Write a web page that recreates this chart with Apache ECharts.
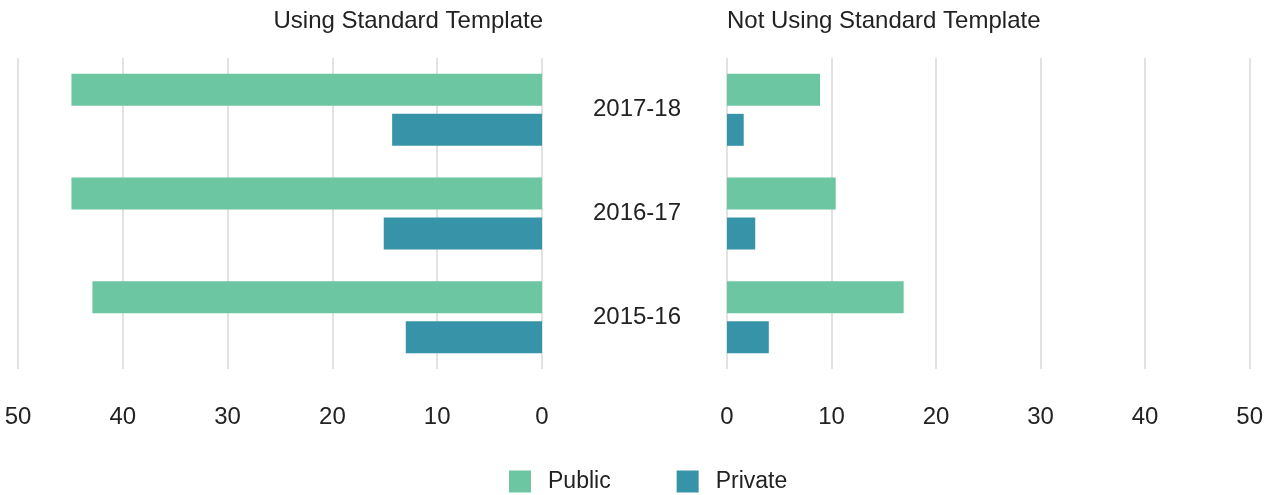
<!DOCTYPE html>
<html>
<head>
<meta charset="utf-8">
<script src="https://cdn.jsdelivr.net/npm/echarts@6/dist/echarts.min.js"></script>
<style>
  html, body { margin: 0; padding: 0; background: #fff; }
  #main { width: 1266px; height: 495px; }
</style>
</head>
<body>
<div id="main"></div>
<script>
// categories, top to bottom
const years = ['2017-18', '2016-17', '2015-16']
// using standard template (%)
const stdPublic = [44.9, 44.9, 42.9]
const stdPrivate = [14.3, 15.1, 13.0]
// not using standard template (%)
const nonPublic = [8.9, 10.4, 16.9]
const nonPrivate = [1.6, 2.7, 4.0]
const ticks = [0, 10, 20, 30, 40, 50]

const FONT = '"Helvetica Neue", Helvetica, "Liberation Sans", Arial, sans-serif'
const GREEN = '#6cc6a2'
const TEAL = '#3794a8'

const myChart = echarts.init(document.getElementById('main'))

const valueAxis = (gridIndex, inverse) => ({
  type: 'value',
  gridIndex: gridIndex,
  inverse: inverse,
  min: ticks[0],
  max: ticks[ticks.length - 1],
  interval: 10,
  axisLine: { show: false },
  axisTick: { show: false },
  axisLabel: { color: '#222', fontSize: 24, fontFamily: FONT, margin: 36 },
  splitLine: { lineStyle: { color: '#d8d8d8', width: 1.5 } }
})

const option = {
  animation: false,
  title: [
    {
      text: 'Using Standard Template',
      right: 718, top: 4,
      textStyle: { fontSize: 24, fontWeight: 'normal', color: '#222', fontFamily: FONT }
    },
    {
      text: 'Not Using Standard Template',
      left: 722, top: 4,
      textStyle: { fontSize: 24, fontWeight: 'normal', color: '#222', fontFamily: FONT }
    }
  ],
  legend: {
    data: ['Public', 'Private'],
    top: 465,
    left: 504,
    itemWidth: 22,
    itemHeight: 22,
    itemGap: 66,
    icon: 'rect',
    textStyle: { fontSize: 23, color: '#222', fontFamily: FONT, padding: [0, 0, 0, 12] }
  },
  grid: [
    { left: 18, right: 724, top: 58, bottom: 126 },
    { left: 727, right: 16, top: 58, bottom: 126 }
  ],
  xAxis: [valueAxis(0, true), valueAxis(1, false)],
  yAxis: [
    {
      type: 'category', gridIndex: 0, data: years, inverse: true,
      show: false
    },
    {
      type: 'category', gridIndex: 1, data: years, inverse: true,
      axisLine: { show: false },
      axisTick: { show: false },
      axisLabel: { color: '#222', fontSize: 24, fontFamily: FONT, margin: 90, align: 'center' }
    }
  ],
  series: [
    { name: 'Public', type: 'bar', xAxisIndex: 0, yAxisIndex: 0, data: stdPublic,
      itemStyle: { color: GREEN }, barWidth: 32, barGap: '25%' },
    { name: 'Private', type: 'bar', xAxisIndex: 0, yAxisIndex: 0, data: stdPrivate,
      itemStyle: { color: TEAL }, barWidth: 32, barGap: '25%' },
    { name: 'Public', type: 'bar', xAxisIndex: 1, yAxisIndex: 1, data: nonPublic,
      itemStyle: { color: GREEN }, barWidth: 32, barGap: '25%' },
    { name: 'Private', type: 'bar', xAxisIndex: 1, yAxisIndex: 1, data: nonPrivate,
      itemStyle: { color: TEAL }, barWidth: 32, barGap: '25%' }
  ]
}

myChart.setOption(option)
</script>
</body>
</html>
